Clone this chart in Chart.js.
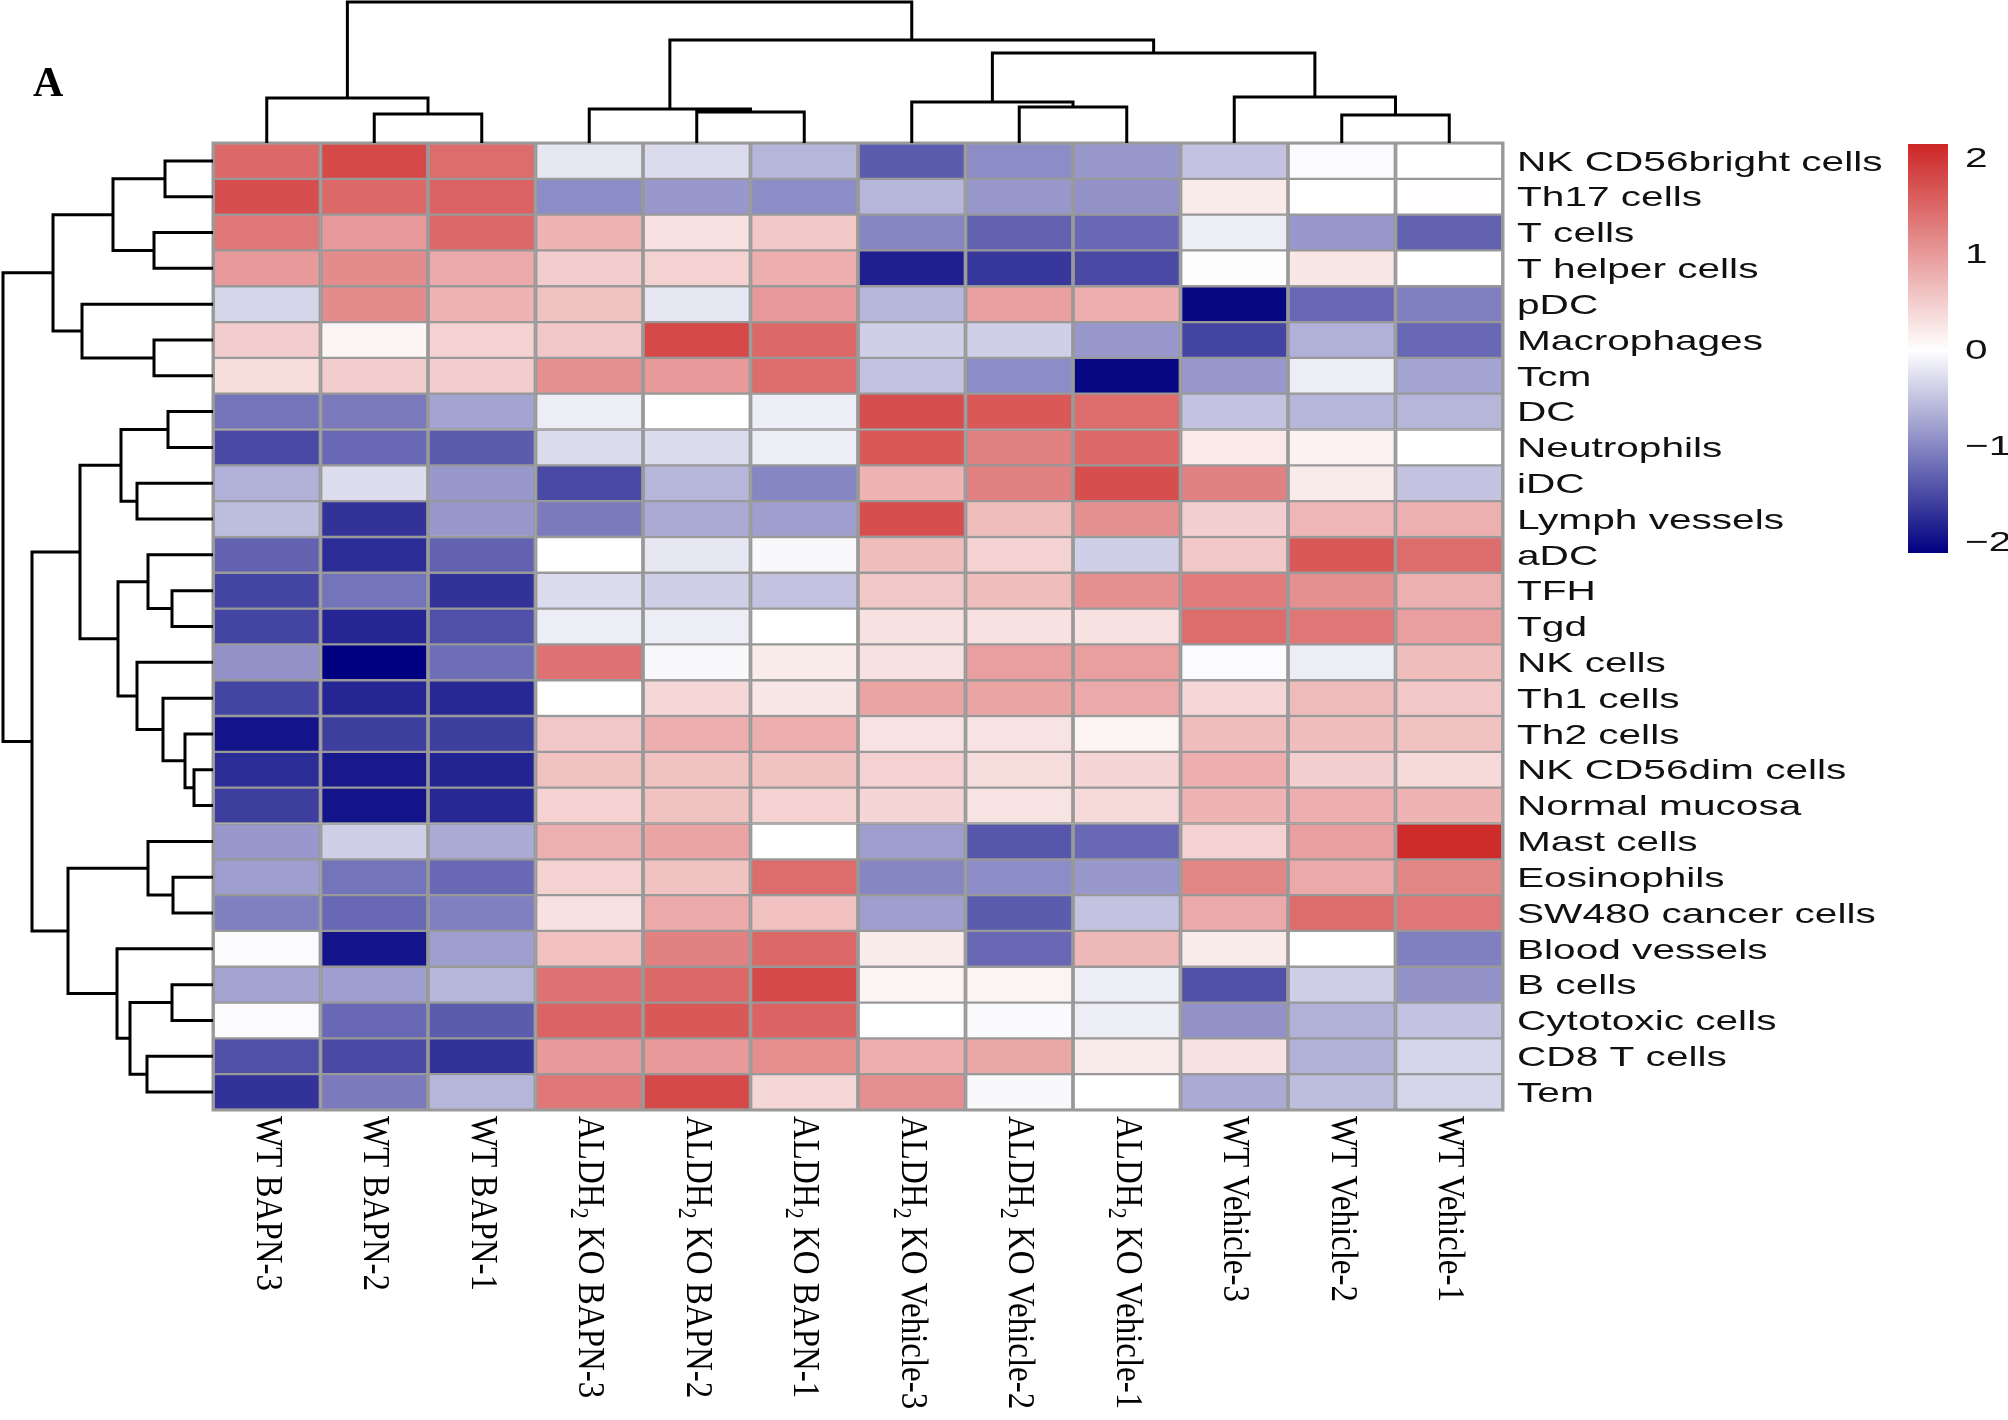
<!DOCTYPE html>
<html>
<head>
<meta charset="utf-8">
<title>Immune infiltration heatmap</title>
<script src="https://cdn.jsdelivr.net/npm/chart.js@4/dist/chart.umd.min.js"></script>
<style>
	body { margin: 0; background: #fff; width: 2008px; height: 1420px; overflow: hidden; position: relative; }
	canvas { position: absolute; }
	#heat { left: 0; top: 0; }
	#colTree { left: 213px; top: 0; }
	#rowTree { left: 0; top: 143px; }
	#scaleBar { left: 1908px; top: 144px; }
</style>
</head>
<body>
<canvas id="heat" width="2008" height="1420"></canvas>
<canvas id="colTree" width="1290" height="143"></canvas>
<canvas id="rowTree" width="213" height="967"></canvas>
<canvas id="scaleBar" width="100" height="409"></canvas>

<script>
// columns, left to right (ALDH2 -> subscript 2 when drawn)
const samples = ['WT BAPN-3', 'WT BAPN-2', 'WT BAPN-1',
	'ALDH2 KO BAPN-3', 'ALDH2 KO BAPN-2', 'ALDH2 KO BAPN-1',
	'ALDH2 KO Vehicle-3', 'ALDH2 KO Vehicle-2', 'ALDH2 KO Vehicle-1',
	'WT Vehicle-3', 'WT Vehicle-2', 'WT Vehicle-1'];

// rows, top to bottom
const cellTypes = ['NK CD56bright cells', 'Th17 cells', 'T cells', 'T helper cells', 'pDC',
	'Macrophages', 'Tcm', 'DC', 'Neutrophils', 'iDC', 'Lymph vessels', 'aDC', 'TFH', 'Tgd',
	'NK cells', 'Th1 cells', 'Th2 cells', 'NK CD56dim cells', 'Normal mucosa', 'Mast cells',
	'Eosinophils', 'SW480 cancer cells', 'Blood vessels', 'B cells', 'Cytotoxic cells',
	'CD8 T cells', 'Tem'];

// z-scores, one row per cell type, same column order as samples
const zscores = [
	[1.5, 1.8, 1.45, -0.2, -0.3, -0.6, -1.35, -0.95, -0.85, -0.5, -0.03, 0.0],
	[1.75, 1.5, 1.55, -0.95, -0.85, -0.95, -0.6, -0.85, -0.9, 0.2, 0.0, 0.02],
	[1.35, 1.0, 1.5, 0.75, 0.3, 0.55, -1.0, -1.3, -1.25, -0.15, -0.85, -1.3],
	[1.0, 1.15, 0.85, 0.5, 0.45, 0.8, -1.85, -1.65, -1.5, -0.02, 0.25, 0.0],
	[-0.35, 1.15, 0.75, 0.6, -0.2, 1.0, -0.6, 0.95, 0.8, -2.05, -1.25, -1.05],
	[0.5, 0.1, 0.45, 0.55, 1.8, 1.5, -0.4, -0.4, -0.85, -1.55, -0.65, -1.25],
	[0.35, 0.5, 0.5, 1.1, 1.0, 1.45, -0.5, -0.95, -2.05, -0.85, -0.15, -0.75],
	[-1.15, -1.1, -0.75, -0.15, 0.0, -0.15, 1.75, 1.65, 1.45, -0.5, -0.6, -0.6],
	[-1.5, -1.25, -1.35, -0.3, -0.3, -0.15, 1.65, 1.25, 1.5, 0.22, 0.13, 0.0],
	[-0.65, -0.28, -0.85, -1.5, -0.6, -1.0, 0.75, 1.25, 1.75, 1.25, 0.2, -0.5],
	[-0.55, -1.7, -0.85, -1.1, -0.7, -0.8, 1.75, 0.65, 1.1, 0.48, 0.72, 0.78],
	[-1.3, -1.75, -1.3, 0.0, -0.2, -0.05, 0.65, 0.45, -0.4, 0.55, 1.65, 1.45],
	[-1.55, -1.15, -1.7, -0.3, -0.4, -0.5, 0.55, 0.65, 1.1, 1.3, 1.1, 0.78],
	[-1.55, -1.8, -1.45, -0.15, -0.15, 0.0, 0.3, 0.3, 0.3, 1.45, 1.35, 0.95],
	[-0.9, -2.11, -1.2, 1.4, -0.05, 0.2, 0.3, 0.95, 0.95, -0.03, -0.15, 0.65],
	[-1.55, -1.8, -1.78, 0.0, 0.4, 0.25, 0.9, 0.9, 0.85, 0.4, 0.68, 0.55],
	[-1.95, -1.6, -1.6, 0.55, 0.8, 0.8, 0.28, 0.28, 0.12, 0.65, 0.65, 0.6],
	[-1.75, -1.9, -1.82, 0.6, 0.6, 0.6, 0.45, 0.35, 0.42, 0.8, 0.48, 0.38],
	[-1.6, -1.95, -1.78, 0.45, 0.6, 0.45, 0.42, 0.28, 0.38, 0.75, 0.8, 0.75],
	[-0.85, -0.4, -0.7, 0.78, 0.9, 0.0, -0.8, -1.4, -1.25, 0.45, 0.95, 2.1],
	[-0.8, -1.15, -1.25, 0.45, 0.6, 1.45, -1.0, -0.95, -0.85, 1.2, 0.85, 1.2],
	[-1.05, -1.25, -1.05, 0.3, 0.85, 0.62, -0.8, -1.35, -0.5, 0.85, 1.45, 1.35],
	[-0.03, -1.95, -0.8, 0.62, 1.25, 1.5, 0.2, -1.25, 0.7, 0.2, 0.0, -1.05],
	[-0.75, -0.8, -0.6, 1.4, 1.5, 1.8, 0.12, 0.12, -0.15, -1.45, -0.4, -0.9],
	[-0.03, -1.25, -1.35, 1.55, 1.65, 1.55, 0.0, -0.04, -0.15, -0.9, -0.65, -0.5],
	[-1.45, -1.5, -1.7, 1.0, 1.0, 1.12, 0.8, 0.88, 0.2, 0.3, -0.65, -0.35],
	[-1.7, -1.1, -0.6, 1.35, 1.8, 0.4, 1.1, -0.05, 0.0, -0.7, -0.55, -0.35]
];

// dendrograms: [childA, childB, height]; ids < n are leaves, id n+k is merge k
const colMerges = [
	[1, 2, 29], [0, 12, 45], [4, 5, 31], [3, 14, 34], [7, 8, 36], [6, 16, 41],
	[10, 11, 28], [9, 18, 46], [17, 19, 90], [15, 20, 103], [13, 21, 141]
];
const rowMerges = [
	[0, 1, 48], [2, 3, 59], [27, 28, 100], [5, 6, 59], [4, 30, 131], [29, 31, 160],
	[7, 8, 45], [9, 10, 76], [33, 34, 92], [12, 13, 41], [11, 36, 65], [17, 18, 19],
	[16, 38, 28], [15, 39, 50], [14, 40, 76], [37, 41, 95], [35, 42, 133], [20, 21, 40],
	[19, 44, 65], [23, 24, 41], [25, 26, 66], [46, 47, 83], [22, 48, 96], [45, 49, 145],
	[43, 50, 181], [32, 51, 210]
];

const scaleMin = -2.11;
const scaleMax = 2.15;
const scaleTicks = [2, 1, 0, -1, -2];

const NAVY = [0, 0, 128], WHITE = [255, 255, 255], RED = [205, 38, 38];

function heatColor(v) {
	var end = v >= 0 ? RED : NAVY;
	var t = Math.min(v >= 0 ? v / scaleMax : v / scaleMin, 1);
	var c = WHITE.map((w, k) => Math.round(w + (end[k] - w) * t));
	return 'rgb(' + c.join(',') + ')';
}

// turn merges into U shaped polylines, null point = pen up
function treePoints(merges, n) {
	var pos = [], hgt = [], pts = [];
	for (var i = 0; i < n; i++) { pos[i] = i; hgt[i] = 0; }
	merges.forEach(function (m, k) {
		var a = m[0], b = m[1], h = m[2];
		pts.push({p: pos[a], h: hgt[a]}, {p: pos[a], h: h}, {p: pos[b], h: h}, {p: pos[b], h: hgt[b]}, null);
		pos[n + k] = (pos[a] + pos[b]) / 2;
		hgt[n + k] = h;
	});
	return pts;
}

Chart.defaults.font.family = '"Liberation Sans", Arial, sans-serif';

var baseOpts = {
	responsive: false,
	animation: false,
	events: [],
	devicePixelRatio: 1,
	plugins: { legend: { display: false }, tooltip: { enabled: false } }
};

function drawSampleLabel(ctx, text) {
	var big = '33px "Liberation Serif", "Times New Roman", serif';
	var small = '22px "Liberation Serif", "Times New Roman", serif';
	ctx.textAlign = 'left';
	ctx.textBaseline = 'middle';
	ctx.font = big;
	var m = text.match(/^(ALDH)2(.*)$/);
	if (!m) { ctx.fillText(text, 0, 0); return; }
	var x0 = 0;
	ctx.fillText(m[1], 0, 0);
	x0 += ctx.measureText(m[1]).width;
	ctx.font = small;
	ctx.fillText('2', x0, 10);
	x0 += ctx.measureText('2').width;
	ctx.font = big;
	ctx.fillText(m[2], x0, 0);
}

var heatLabels = {
	id: 'heatLabels',
	afterDraw: function (chart) {
		var ctx = chart.ctx, a = chart.chartArea, x = chart.scales.x, y = chart.scales.y;
		ctx.save();
		ctx.strokeStyle = '#999999';
		ctx.lineWidth = 3;
		ctx.strokeRect(a.left, a.top, a.right - a.left, a.bottom - a.top);

		ctx.fillStyle = '#111';
		ctx.font = '28px "Liberation Sans", Arial, sans-serif';
		ctx.textAlign = 'left';
		ctx.textBaseline = 'middle';
		cellTypes.forEach(function (name, r) {
			ctx.save();
			ctx.translate(a.right + 14, y.getPixelForValue(r) + 2);
			ctx.scale(1.45, 1);
			ctx.fillText(name, 0, 0);
			ctx.restore();
		});

		ctx.fillStyle = '#000';
		samples.forEach(function (name, c) {
			ctx.save();
			ctx.translate(x.getPixelForValue(c), a.bottom + 6);
			ctx.rotate(Math.PI / 2);
			ctx.scale(1, 1.15);
			drawSampleLabel(ctx, name);
			ctx.restore();
		});

		// panel letter
		ctx.font = 'bold 42px "Liberation Serif", "Times New Roman", serif';
		ctx.textBaseline = 'alphabetic';
		ctx.fillText('A', 33, 96);
		ctx.restore();
	}
};

new Chart(document.getElementById('heat'), {
	type: 'bar',
	data: {
		labels: samples,
		datasets: cellTypes.map(function (name, r) {
			return {
				label: name,
				data: samples.map(() => [r - 0.5, r + 0.5]),
				backgroundColor: zscores[r].map(heatColor),
				borderColor: '#999999',
				borderWidth: { top: 1.5, bottom: 1.5, left: 2.2, right: 2.2 },
				borderSkipped: false,
				grouped: false,
				barPercentage: 1,
				categoryPercentage: 1
			};
		})
	},
	options: Object.assign({}, baseOpts, {
		layout: { padding: { left: 213, top: 143, right: 505, bottom: 310 } },
		scales: {
			x: { display: false },
			y: { type: 'linear', min: -0.5, max: 26.5, reverse: true, display: false }
		}
	}),
	plugins: [heatLabels]
});

// column dendrogram (top)
var colPts = treePoints(colMerges, samples.length);
new Chart(document.getElementById('colTree'), {
	type: 'scatter',
	data: { datasets: [{
		data: colPts.map(q => q ? {x: q.p, y: q.h} : {x: null, y: null}),
		showLine: true, borderColor: '#000', borderWidth: 3, pointRadius: 0, clip: 4
	}] },
	options: Object.assign({}, baseOpts, {
		layout: { padding: 0 },
		scales: {
			x: { type: 'linear', min: -0.5, max: 11.5, display: false },
			y: { type: 'linear', min: 0, max: 143, display: false }
		}
	})
});

// row dendrogram (left)
var rowPts = treePoints(rowMerges, cellTypes.length);
new Chart(document.getElementById('rowTree'), {
	type: 'scatter',
	data: { datasets: [{
		data: rowPts.map(q => q ? {x: q.h, y: q.p} : {x: null, y: null}),
		showLine: true, borderColor: '#000', borderWidth: 3, pointRadius: 0, clip: 4
	}] },
	options: Object.assign({}, baseOpts, {
		layout: { padding: 0 },
		scales: {
			x: { type: 'linear', min: 0, max: 213, reverse: true, display: false },
			y: { type: 'linear', min: -0.5, max: 26.5, reverse: true, display: false }
		}
	})
});

// colour key
function keyGradient(chart) {
	var y = chart.scales.y;
	if (!chart.chartArea || !y) return '#ffffff';
	var g = chart.ctx.createLinearGradient(0, y.getPixelForValue(scaleMin), 0, y.getPixelForValue(scaleMax));
	g.addColorStop(0, 'rgb(' + NAVY.join(',') + ')');
	g.addColorStop(-scaleMin / (scaleMax - scaleMin), '#ffffff');
	g.addColorStop(1, 'rgb(' + RED.join(',') + ')');
	return g;
}

var keyLabels = {
	id: 'keyLabels',
	afterDraw: function (chart) {
		var ctx = chart.ctx, y = chart.scales.y, a = chart.chartArea;
		ctx.save();
		ctx.fillStyle = '#111';
		ctx.font = '28px "Liberation Sans", Arial, sans-serif';
		ctx.textAlign = 'left';
		ctx.textBaseline = 'middle';
		scaleTicks.forEach(function (v) {
			ctx.save();
			ctx.translate(a.right + 17, y.getPixelForValue(v) + 1);
			ctx.scale(1.45, 1);
			ctx.fillText(v < 0 ? '\u2212' + Math.abs(v) : String(v), 0, 0);
			ctx.restore();
		});
		ctx.restore();
	}
};

new Chart(document.getElementById('scaleBar'), {
	type: 'bar',
	data: {
		labels: [''],
		datasets: [{
			data: [[scaleMin, scaleMax]],
			backgroundColor: function (c) { return keyGradient(c.chart); },
			borderWidth: 0,
			barPercentage: 1,
			categoryPercentage: 1
		}]
	},
	options: Object.assign({}, baseOpts, {
		layout: { padding: { left: 0, top: 0, right: 60, bottom: 0 } },
		scales: {
			x: { display: false },
			y: { type: 'linear', min: scaleMin, max: scaleMax, display: false }
		}
	}),
	plugins: [keyLabels]
});
</script>
</body>
</html>
